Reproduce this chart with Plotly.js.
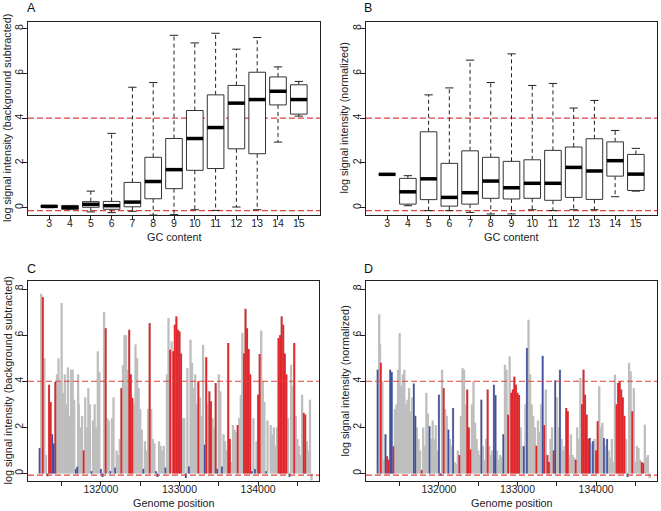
<!DOCTYPE html>
<html><head><meta charset="utf-8">
<script src="https://cdn.plot.ly/plotly-3.0.1.min.js"></script>
<style>html,body{margin:0;padding:0;background:#fff}#chart{width:661px;height:511px}</style>
</head><body><div id="chart"></div>
<script>
// ---------- Panels A/B: box statistics per GC content ----------
const gcContent = [3,4,5,6,7,8,9,10,11,12,13,14,15];
const bgLower = [0.00,-0.07,-0.19,-0.22,-0.16,-0.33,-0.31,-0.09,-0.12,0.03,-0.09,2.93,4.09];
const bgQ1    = [0.03,-0.07,0.02,-0.07,0.04,0.40,0.85,1.67,1.75,2.63,2.41,4.59,4.18];
const bgMed   = [0.06,0.01,0.15,0.09,0.25,1.17,1.70,3.09,3.58,4.67,4.83,5.20,4.83];
const bgQ3    = [0.09,0.10,0.27,0.28,1.13,2.25,3.09,4.34,5.04,5.46,6.05,5.84,5.49];
const bgUpper = [0.10,0.10,0.74,3.32,5.38,5.59,7.70,7.36,7.79,7.08,7.60,6.29,5.64];

const nmLower = [1.47,0.09,-0.13,-0.13,-0.21,-0.28,-0.28,-0.09,-0.13,-0.09,-0.09,0.49,0.74];
const nmQ1    = [1.47,0.16,0.36,0.07,0.16,0.42,0.39,0.42,0.33,0.46,0.37,1.41,0.77];
const nmMed   = [1.49,0.71,1.29,0.46,0.67,1.19,0.89,1.09,1.09,1.80,1.64,2.10,1.50];
const nmQ3    = [1.51,1.31,3.39,1.98,2.54,2.25,2.07,2.14,2.56,2.71,3.08,2.94,2.38];
const nmUpper = [1.51,1.43,5.04,5.35,6.59,5.59,6.87,5.46,5.55,4.45,4.79,3.45,2.65];

const thresholdsGC  = [4, -0.13];
const thresholdsPos = [4, -0.07];

// ---------- Panels C/D: probes along the genome ----------
const genomePos = [131220,131240,131250,131260,131280,131300,131320,131340,131360,131380,131400,131420,131440,131460,131480,131500,131520,131540,131560,131580,131600,131620,131640,131660,131680,131700,131710,131720,131740,131760,131780,131800,131820,131840,131860,131880,131900,131920,131940,131960,131980,132000,132020,132040,132060,132080,132100,132120,132140,132160,132180,132200,132220,132240,132260,132280,132300,132320,132340,132360,132380,132400,132420,132440,132460,132480,132500,132520,132540,132560,132580,132600,132620,132640,132660,132680,132700,132720,132740,132760,132780,132800,132820,132840,132860,132880,132900,132920,132940,132960,132980,133000,133020,133040,133060,133080,133100,133120,133140,133160,133180,133200,133220,133240,133260,133280,133300,133320,133340,133360,133380,133400,133420,133440,133460,133480,133500,133520,133540,133560,133580,133600,133620,133640,133660,133680,133700,133720,133740,133760,133780,133800,133820,133840,133860,133880,133900,133920,133940,133960,133980,134000,134020,134040,134060,134080,134100,134120,134140,134160,134180,134200,134220,134240,134260,134280,134300,134320,134340,134360,134380,134400,134420,134440,134460,134480,134500,134520,134540,134560,134580,134600,134620,134640,134660,134680];
const probeClass = ['b','g','g','r','g','g','b','r','r','b','b','r','g','g','g','g','g','g','g','g','g','g','g','g','b','b','g','g','g','g','r','g','g','g','g','b','g','g','g','g','g','b','b','g','r','g','g','b','g','g','b','g','g','g','r','g','g','g','g','r','r','r','g','g','g','g','g','g','b','g','g','g','r','g','g','g','b','b','g','g','g','g','b','g','g','r','g','r','r','r','r','r','r','g','g','b','g','b','g','g','g','g','g','r','g','g','g','b','r','g','r','r','g','g','r','b','g','g','b','g','g','g','r','r','g','g','g','g','r','g','g','g','r','r','r','r','r','b','g','b','g','r','r','g','g','g','b','g','b','g','g','g','g','g','r','r','r','r','r','r','g','b','g','g','r','g','g','g','g','g','r','r','g','g','g','g'];
const signalBgSub = [1.1,7.8,4.9,7.65,5.0,0.8,-0.12,3.85,3.1,1.7,1.3,3.97,4.3,5.0,4.0,7.39,3.5,4.3,3.0,4.6,2.5,4.5,4.5,3.2,0.2,0.3,4.3,3.0,2.0,2.5,1.0,3.3,2.0,3.7,3.0,0.1,2.3,3.0,2.0,5.3,4.4,0.2,-0.15,7.0,6.3,2.4,2.3,0.1,2.4,3.3,0.25,1.0,0.8,1.5,3.7,4.7,6.0,6.0,4.5,6.23,4.3,3.28,3.0,5.6,5.0,3.7,2.8,1.9,0.2,1.4,1.0,2.8,6.52,2.8,1.5,1.3,0.1,-0.15,1.4,1.2,1.0,1.2,0.25,4.3,6.74,5.37,5.73,5.3,6.45,6.81,6.23,6.16,5.2,2.4,2.4,-0.2,4.57,0.3,5.8,4.8,3.7,4.3,3.0,4.0,3.3,2.5,5.58,1.25,5.04,3.0,3.56,3.13,2.4,2.0,3.92,0.2,4.3,3.56,0.3,1.7,1.4,1.0,5.66,1.5,0.5,2.1,1.9,1.8,2.1,2.4,3.4,6.1,5.2,7.14,6.3,5.4,4.3,0.1,2.4,0.2,1.4,3.42,5.18,6.2,4.0,3.1,0.1,2.3,0.0,2.1,1.7,2.0,1.2,2.0,5.87,6.0,6.81,6.45,5.2,4.3,2.4,-0.15,4.72,3.8,5.66,2.5,1.5,1.2,0.8,3.42,2.63,2.55,1.4,1.0,3.2,-0.3];
const signalNorm = [4.5,6.9,5.6,4.8,4.0,0.6,1.7,0.75,0.6,4.5,4.4,1.18,2.8,3.0,4.5,6.09,3.8,4.3,4.5,3.0,3.2,3.7,2.7,3.3,3.9,2.5,2.0,2.0,1.5,1.0,0.15,2.0,1.2,3.5,2.6,2.05,1.5,2.3,1.5,2.1,1.0,3.42,-0.1,4.5,3.7,2.8,2.5,1.9,1.5,1.2,2.84,0.5,0.4,1.0,0.8,2.5,4.57,4.5,3.0,3.64,2.0,1.04,3.0,4.0,2.2,1.5,1.0,0.8,3.2,1.2,0.6,1.5,3.64,1.2,0.8,1.0,3.85,3.4,1.0,0.6,0.8,0.7,1.7,4.72,4.5,2.55,5.08,3.5,3.64,4.2,3.85,3.5,3.4,2.0,1.2,1.18,3.0,5.44,6.67,4.3,3.0,2.5,2.0,1.2,2.3,1.8,3.0,5.1,2.1,3.64,0.8,0.5,1.5,2.0,1.0,4.04,3.3,2.0,4.5,1.5,1.0,1.2,2.84,2.7,0.8,1.7,0.8,0.7,0.6,2.0,1.5,4.14,3.0,4.5,3.42,2.55,1.5,1.54,1.3,1.4,1.5,1.0,2.27,3.78,2.0,2.2,1.54,1.2,1.5,1.0,0.7,1.5,0.5,4.29,3.0,3.92,4.0,3.64,3.3,2.5,1.5,-0.15,4.8,4.43,2.7,3.7,0.5,1.2,1.1,0.6,0.5,0.45,2.12,0.7,0.8,-0.2];

const classColors = {g:'#bebebe', r:'#e3262b', b:'#3f51a2'};

// ---------- helpers ----------
const INK = '#222222';
const FONT = 'Liberation Sans, Arial, Helvetica, sans-serif';

function boxTraces(xa, ya, lo, q1, med, q3, hi) {
  const bx=[], by=[], wx=[], wy=[], sx=[], sy=[], mx=[], my=[];
  gcContent.forEach((g,i)=>{
    bx.push(g-0.4,g+0.4,g+0.4,g-0.4,g-0.4,null);
    by.push(q1[i],q1[i],q3[i],q3[i],q1[i],null);
    wx.push(g,g,null,g,g,null);
    wy.push(q3[i],hi[i],null,q1[i],lo[i],null);
    sx.push(g-0.2,g+0.2,null,g-0.2,g+0.2,null);
    sy.push(hi[i],hi[i],null,lo[i],lo[i],null);
    mx.push(g-0.4,g+0.4,null);
    my.push(med[i],med[i],null);
  });
  const base = {type:'scatter', mode:'lines', xaxis:xa, yaxis:ya, hoverinfo:'skip', showlegend:false};
  return [
    Object.assign({}, base, {x:wx, y:wy, line:{color:INK, width:1, dash:'4px,3px'}}),
    Object.assign({}, base, {x:sx, y:sy, line:{color:INK, width:1}}),
    Object.assign({}, base, {x:bx, y:by, fill:'toself', fillcolor:'#ffffff', line:{color:'#333333', width:1}}),
    Object.assign({}, base, {x:mx, y:my, line:{color:'#000000', width:3.5}})
  ];
}

function spikeTrace(xa, ya, vals, cls, color, width) {
  const X=[], Y=[];
  genomePos.forEach((p,i)=>{
    if (cls === null || probeClass[i] === cls) { X.push(p,p,null); Y.push(0,vals[i],null); }
  });
  return {type:'scatter', mode:'lines', x:X, y:Y, xaxis:xa, yaxis:ya,
          line:{color:color, width:width}, hoverinfo:'skip', showlegend:false};
}

// invisible anchor traces so the label-only overlay axes exist
const emptyTrace = (xa, ya) => ({type:'scatter', mode:'lines', x:[], y:[], xaxis:xa, yaxis:ya, hoverinfo:'skip', showlegend:false});

const traces = []
  .concat(boxTraces('x','y', bgLower,bgQ1,bgMed,bgQ3,bgUpper))
  .concat(boxTraces('x2','y2', nmLower,nmQ1,nmMed,nmQ3,nmUpper))
  .concat([
    spikeTrace('x3','y3', signalBgSub, null, classColors.g, 2.3),
    spikeTrace('x3','y3', signalBgSub, 'r', classColors.r, 1.8),
    spikeTrace('x3','y3', signalBgSub, 'b', classColors.b, 1.6),
    spikeTrace('x4','y4', signalNorm, null, classColors.g, 2.3),
    spikeTrace('x4','y4', signalNorm, 'r', classColors.r, 1.8),
    spikeTrace('x4','y4', signalNorm, 'b', classColors.b, 1.6),
    emptyTrace('x5','y'), emptyTrace('x6','y2'), emptyTrace('x7','y3'), emptyTrace('x8','y4')
  ]);

const W = 661, H = 511;
const dx = (a,b)=>[a/W, b/W];
const dy = (top,bot)=>[1-bot/H, 1-top/H];

function axis(extra) {
  return Object.assign({
    showline:true, mirror:true, linecolor:INK, linewidth:1,
    ticks:'outside', ticklen:4, tickcolor:INK, tickwidth:1,
    showgrid:false, zeroline:false,
    tickfont:{family:FONT, size:10.5, color:INK}
  }, extra);
}
// label-only overlay axis (same scale as the framed axis, no tick marks)
function labelAxis(over, anchor, extra) {
  return Object.assign({
    overlaying:over, anchor:anchor, side:'bottom', showline:false, ticks:'', showgrid:false, zeroline:false,
    tickfont:{family:FONT, size:10.5, color:INK}
  }, extra);
}
const titleFont = {family:FONT, size:10.8, color:INK};

const gcRange = [1.98,16.02];
const gcTicks = {tickmode:'array', tickvals:gcContent, ticktext:gcContent.map(String)};
const posRange = [131072,134775];
const posTicks = [131500,132000,132500,133000,133500,134000,134500];
const posTickLabels = {tickmode:'array', tickvals:posTicks, ticktext:posTicks.map(v=> v%1000===0 ? String(v) : '')};
const yTicks = {tickmode:'array', tickvals:[0,2,4,6,8], ticktext:['0','2','4','6','8'], tickangle:-90, ticklen:5, ticklabelstandoff:-5};

const layout = {
  width:W, height:H, margin:{l:0,r:0,t:0,b:0},
  paper_bgcolor:'#ffffff', plot_bgcolor:'#ffffff', showlegend:false,
  xaxis: axis(Object.assign({domain:dx(28,320), anchor:'y', range:gcRange, showticklabels:false}, gcTicks)),
  yaxis: axis(Object.assign({domain:dy(22,215), anchor:'x', range:[-0.326,8.294]}, yTicks)),
  xaxis2: axis(Object.assign({domain:dx(366,657), anchor:'y2', range:gcRange, showticklabels:false}, gcTicks)),
  yaxis2: axis(Object.assign({domain:dy(22,215), anchor:'x2', range:[-0.326,8.294]}, yTicks)),
  xaxis3: axis(Object.assign({domain:dx(28,319), anchor:'y3', range:posRange, showticklabels:false}, posTickLabels)),
  yaxis3: axis(Object.assign({domain:dy(281,481), anchor:'x3', range:[-0.325,8.347]}, yTicks)),
  xaxis4: axis(Object.assign({domain:dx(366,657), anchor:'y4', range:posRange, showticklabels:false}, posTickLabels)),
  yaxis4: axis(Object.assign({domain:dy(281,481), anchor:'x4', range:[-0.325,8.347]}, yTicks)),
  xaxis5: labelAxis('x', 'y', Object.assign({range:gcRange}, gcTicks)),
  xaxis6: labelAxis('x2', 'y2', Object.assign({range:gcRange}, gcTicks)),
  xaxis7: labelAxis('x3', 'y3', Object.assign({range:posRange}, posTickLabels)),
  xaxis8: labelAxis('x4', 'y4', Object.assign({range:posRange}, posTickLabels)),
  shapes: [],
  annotations: []
};

const dashRed = {color:'#e0403f', width:1.1, dash:'6px,3px'};
[['x','y','below',thresholdsGC],['x2','y2','below',thresholdsGC],
 ['x3','y3','above',thresholdsPos],['x4','y4','above',thresholdsPos]].forEach(([xa,ya,layer,th])=>{
  th.forEach(v=>{
    layout.shapes.push({type:'line', xref:xa+' domain', yref:ya, x0:0, x1:1, y0:v, y1:v, layer:layer, line:dashRed});
  });
});

// panel letters
[['A',25,8.5],['B',362,8.5],['C',25,269],['D',362,269]].forEach(([t,x,y])=>{
  layout.annotations.push({text:t, xref:'paper', yref:'paper', x:x/W, y:1-y/H, xanchor:'left', yanchor:'middle',
    showarrow:false, font:{family:FONT, size:12.5, color:'#111'}});
});
// axis titles
const axisTitles = [
  ['GC content', 174, 237, 0], ['GC content', 511.5, 237, 0],
  ['Genome position', 173.5, 503, 0], ['Genome position', 511.5, 503, 0],
  ['log signal intensity (background subtracted)', 7.5, 118.5, -90],
  ['log signal intensity (normalized)', 344, 118.5, -90],
  ['log signal intensity (background subtracted)', 7.5, 381, -90],
  ['log signal intensity (normalized)', 344.5, 381, -90]
];
axisTitles.forEach(([t,x,y,a])=>{
  layout.annotations.push({text:t, xref:'paper', yref:'paper', x:x/W, y:1-y/H, xanchor:'center', yanchor:'middle',
    textangle:a, showarrow:false, font:titleFont});
});

Plotly.newPlot('chart', traces, layout, {staticPlot:true, displayModeBar:false});
</script></body></html>
